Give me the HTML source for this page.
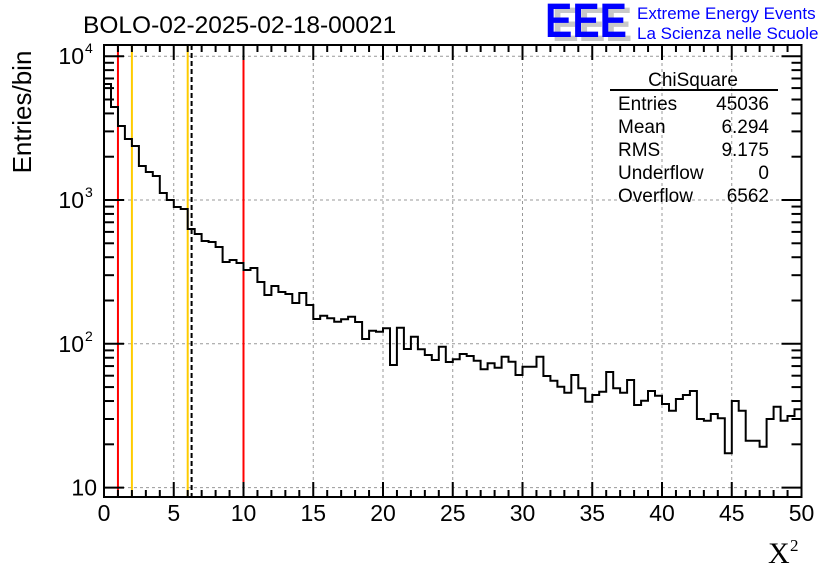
<!DOCTYPE html>
<html><head><meta charset="utf-8"><style>
html,body{margin:0;padding:0;background:#fff;}
svg{display:block;font-family:"Liberation Sans",Arial,sans-serif;}
</style></head><body>
<svg id="s" width="836" height="572" viewBox="0 0 836 572" xmlns="http://www.w3.org/2000/svg">
<rect width="836" height="572" fill="#fff"/>
<g id="grid" stroke="#999" stroke-width="1" stroke-dasharray="3,3"></g>
<g id="lines"></g>
<path id="hist" fill="none" stroke="#000" stroke-width="2"/>
<rect x="104" y="45" width="697.5" height="452" fill="none" stroke="#000" stroke-width="2"/>
<g id="ticks" stroke="#000" stroke-width="2"></g>
<g id="labels" font-size="23" fill="#000"></g>
<text x="83" y="33" font-size="24.5">BOLO-02-2025-02-18-00021</text>
<text transform="translate(31,112) rotate(-90)" font-size="26" text-anchor="middle">Entries/bin</text>
<text x="768" y="563" font-family="Liberation Serif,serif" font-size="30">X</text>
<text x="790" y="551" font-family="Liberation Serif,serif" font-size="17">2</text>
<!-- stats -->
<text x="693" y="86" font-size="19" text-anchor="middle">ChiSquare</text>
<line x1="610" y1="90" x2="778" y2="90" stroke="#000" stroke-width="2"/>
<g font-size="19">
<text x="618" y="110">Entries</text><text x="769" y="110" text-anchor="end">45036</text>
<text x="618" y="133">Mean</text><text x="769" y="133" text-anchor="end">6.294</text>
<text x="618" y="156">RMS</text><text x="769" y="156" text-anchor="end">9.175</text>
<text x="618" y="179">Underflow</text><text x="769" y="179" text-anchor="end">0</text>
<text x="618" y="202">Overflow</text><text x="769" y="202" text-anchor="end">6562</text>
</g>
<!-- logo -->
<text x="552" y="41" font-size="48" font-weight="bold" fill="#c8c8c8" textLength="80" lengthAdjust="spacingAndGlyphs">EEE</text>
<text x="545" y="37" font-size="48" font-weight="bold" fill="#0000ff" textLength="82" lengthAdjust="spacingAndGlyphs">EEE</text>
<text x="637" y="19" font-size="17" fill="#0000ff">Extreme Energy Events</text>
<text x="637" y="39" font-size="17" fill="#0000ff">La Scienza nelle Scuole</text>
</svg>
<script>
const X0=104,XS=13.95,Y3=200,DEC=143.8,BOT=497,TOP=45,XR=801.5;
const ns="http://www.w3.org/2000/svg";
function el(p,t,a,txt){const e=document.createElementNS(ns,t);for(const k in a)e.setAttribute(k,a[k]);if(txt!==undefined)e.textContent=txt;document.getElementById(p).appendChild(e);return e;}
const yv=[84,107,126,139,146,166,172,176,193,200,207,209,229,234,241,242,247,262,260,263,270,268,282,295,286,292,294,303,293,305,319,315.7,318.3,321.7,
319.3,316.7,322,339,330.7,331.7,328.3,365,327.7,349,336.7,349.3,355,360,346.7,362,359.3,354,356,360.7,369.3,363.3,367.7,356.7,361.7,375,366.7,366.7,356.7,376,380.7,386.7,392.7,375,388.3,401.7,395,391.7,372,388.3,392.7,380,405,400.7,391,395.7,404,410.7,399,395,391,419,420.7,414,418.3,453.3,401,410.7,440.7,440.7,446.7,419,406.7,420.7,416,409.3];
let d="M"+X0+","+yv[0];
for(let k=0;k<100;k++){const x1=X0+(k+1)*XS*0.5;d+=" L"+x1.toFixed(1)+","+yv[k];if(k<99)d+=" L"+x1.toFixed(1)+","+yv[k+1];}
document.getElementById("hist").setAttribute("d",d);
for(let v=5;v<50;v+=5){const x=X0+v*XS;el("grid","line",{x1:x,y1:TOP,x2:x,y2:BOT});}
for(let p=1;p<=4;p++){const y=Y3-(p-3)*DEC;el("grid","line",{x1:X0,y1:y,x2:XR,y2:y});}
[[1,"#ff0000"],[2,"#ffcc00"],[6,"#ffcc00"],[10,"#ff0000"]].forEach(a=>{const x=X0+a[0]*XS;el("lines","line",{x1:x,y1:TOP,x2:x,y2:BOT,stroke:a[1],"stroke-width":2});});
{const x=X0+6.28*XS;el("lines","line",{x1:x,y1:TOP,x2:x,y2:BOT,stroke:"#000","stroke-width":2,"stroke-dasharray":"5,3"});}
for(let v=0;v<=50;v++){const x=X0+v*XS;const L=v%5==0?15:7;
 el("ticks","line",{x1:x,y1:BOT,x2:x,y2:BOT-L});el("ticks","line",{x1:x,y1:TOP,x2:x,y2:TOP+L});
 if(v%5==0)el("labels","text",{x:x,y:521,"text-anchor":"middle"},String(v));}
for(let p=1;p<=4;p++){for(let m=1;m<=9;m++){const y=Y3-(p-3+Math.log10(m))*DEC;if(y<TOP||y>BOT)continue;const L=m==1?20:10;
 el("ticks","line",{x1:X0,y1:y,x2:X0+L,y2:y});el("ticks","line",{x1:XR,y1:y,x2:XR-L,y2:y});}}
[[1,"10",""],[2,"10","2"],[3,"10","3"],[4,"10","4"]].forEach(a=>{const y=Y3-(a[0]-3)*DEC;
 if(a[0]==1){el("labels","text",{x:97,y:y+8,"text-anchor":"end"},"10");}
 else{el("labels","text",{x:84,y:y+8,"text-anchor":"end"},"10");el("labels","text",{x:85,y:y-3,"font-size":"14"},a[2]);}});
</script>
</body></html>
